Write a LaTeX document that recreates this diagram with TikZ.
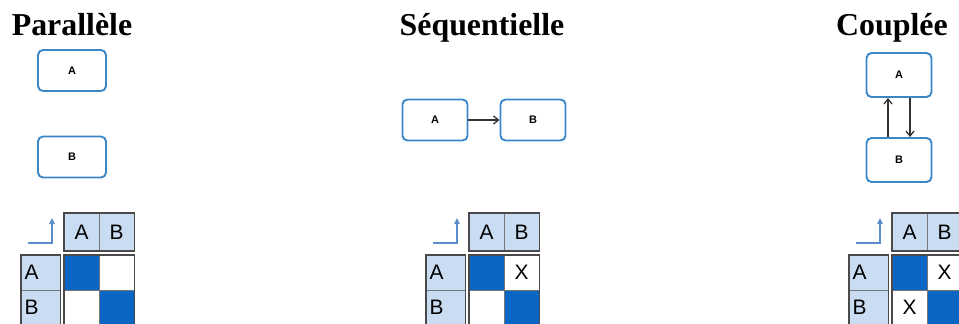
\documentclass[tikz,border=0pt]{standalone}
\usepackage{fontspec}
\setmainfont{Liberation Serif}
\newfontfamily\cellfont{Liberation Sans}
\usetikzlibrary{arrows.meta}
\definecolor{boxblue}{HTML}{3A86C6}
\definecolor{lightcell}{HTML}{C9DCF2}
\definecolor{darkcell}{HTML}{0A66C2}
\definecolor{gridgray}{HTML}{4A4A4A}
\definecolor{cornerblue}{HTML}{5A8FCB}
\definecolor{arrowgray}{HTML}{333333}
\tikzset{
  paneltitle/.style={font=\fontsize{32}{36}\selectfont\bfseries, anchor=base, inner sep=0pt},
  blockbox/.style={draw=boxblue, line width=1.9bp, rounded corners=5bp, fill=white,
    minimum width=65bp, minimum height=41bp, inner sep=0pt,
    font=\cellfont\bfseries\fontsize{11}{13}\selectfont},
  cellbase/.style={draw=gridgray!75, line width=0.8bp, inner sep=0pt,
    minimum width=35bp, minimum height=35bp, font=\cellfont\fontsize{21}{23}\selectfont},
  hcell/.style={cellbase, fill=lightcell, minimum height=37bp},
  rcell/.style={cellbase, fill=lightcell, minimum width=39bp, text width=32bp, align=left},
  dcell/.style={cellbase, fill=darkcell},
  ecell/.style={cellbase, fill=white},
  frame/.style={draw=gridgray, line width=1.8bp},
  corner/.style={draw=cornerblue, line width=1.3bp, -{Triangle[length=6bp,width=5.5bp]}},
  arr/.style={draw=arrowgray, line width=1.3bp, -{Straight Barb[length=5bp,width=8bp]}}
}
\newcommand\dsmgrid[4]{%
  \begin{scope}[shift={(#2,0)}]
    \node[hcell] (#1hA) at (17.5,232) {A};
    \node[hcell] (#1hB) at (52.5,232) {B};
    \node[rcell] (#1rA) at (-23.5,272.5) {A};
    \node[rcell] (#1rB) at (-23.5,307.5) {B};
    \node[dcell] (#1AA) at (17.5,272.5) {};
    \node[ecell] (#1AB) at (52.5,272.5) {#3};
    \node[ecell] (#1BA) at (17.5,307.5) {#4};
    \node[dcell] (#1BB) at (52.5,307.5) {};
    \draw[frame] (#1hA.north west) rectangle (#1hB.south east);
    \draw[frame] (#1rA.north west) rectangle (#1rB.south east);
    \draw[frame] (#1AA.north west) rectangle (#1BB.south east);
    \coordinate (#1c1) at (-36,243);
    \coordinate (#1c2) at (-12,243);
    \coordinate (#1c3) at (-12,218);
    \draw[corner] (#1c1) -- (#1c2) -- (#1c3);
  \end{scope}}
\begin{document}
\begin{tikzpicture}[x=1bp,y=-1bp]
  \useasboundingbox (0,0) rectangle (959,323);
  \clip (0,0) rectangle (959,323);
  % titles
  \node[paneltitle] (tpar) at (72,35) {Parallèle};
  \node[paneltitle] (tseq) at (482,35) {Séquentielle};
  \node[paneltitle] (tcou) at (892,35) {Couplée};
  % Parallele
  \node[blockbox, minimum width=68bp] (pA) at (72,70.5) {A};
  \node[blockbox, minimum width=68bp] (pB) at (72,157) {B};
  % Sequentielle
  \node[blockbox] (sA) at (435,120) {A};
  \node[blockbox] (sB) at (533,120) {B};
  \draw[arr] (sA.east) -- (sB.west);
  % Couplee
  \node[blockbox, minimum height=44bp] (cA) at (899,75) {A};
  \node[blockbox, minimum height=44bp] (cB) at (899,160) {B};
  \draw[arr] ([xshift=-11bp]cB.north) -- ([xshift=-11bp]cA.south);
  \draw[arr] ([xshift=11bp]cA.south) -- ([xshift=11bp]cB.north);
  % matrices
  \dsmgrid{p}{64}{}{}
  \dsmgrid{s}{469}{X}{}
  \dsmgrid{c}{892}{X}{X}
\end{tikzpicture}
\end{document}
